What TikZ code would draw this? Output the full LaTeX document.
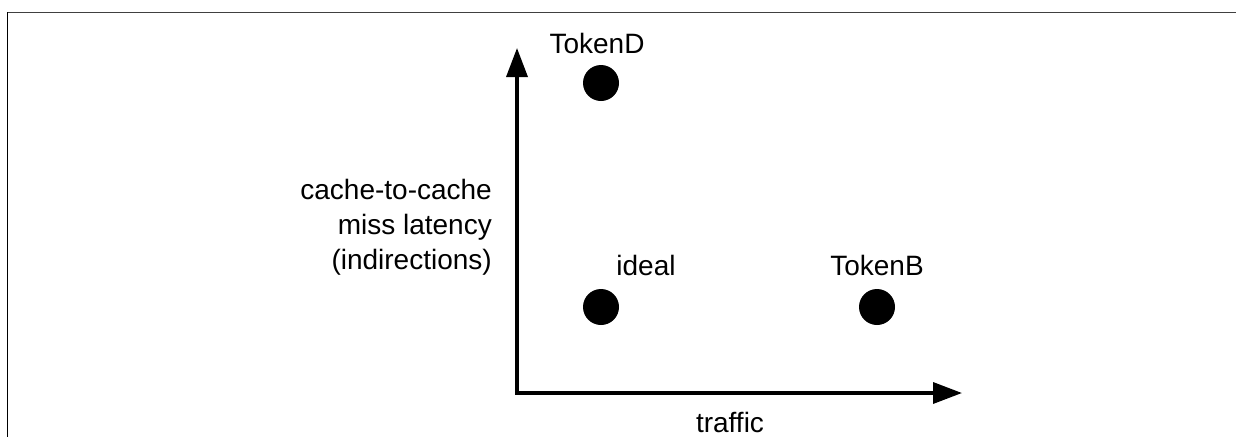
\documentclass[tikz,border=0pt]{standalone}
\usepackage{fontspec}
\setmainfont{Liberation Sans}
\usetikzlibrary{arrows.meta}
\begin{document}
\begin{tikzpicture}[x=1pt,y=-1pt,
  axis/.style={line width=3.5pt,-{Triangle[length=29pt,width=21pt]}},
  dot/.style={circle,fill=black,inner sep=0pt,minimum size=36pt},
  lbl/.style={font=\fontsize{28}{35}\selectfont,inner sep=0pt},
  frameline/.style={line width=1.5pt}]
\useasboundingbox (0,0) rectangle (1236,437);
% open frame: top edge and left edge
\draw[frameline,draw=black!75] (7,12.5) -- (1236,12.5);
\draw[frameline] (7.5,12) -- (7.5,437);
% axes
\coordinate (o) at (517,393);
\coordinate (ytip) at (517,48);
\coordinate (xtip) at (962,393);
\draw[axis,line cap=butt] (o) -- (ytip);
\draw[axis] ([xshift=-1.75pt]o) -- (xtip);
% data points
\node[dot] (tokend) at (601,83) {};
\node[dot] (ideal) at (601,307) {};
\node[dot] (tokenb) at (877,307) {};
% labels
\node[lbl,anchor=base] (tokendl) at (597,53) {TokenD};
\node[lbl,anchor=base] (ideall) at (646,275) {ideal};
\node[lbl,anchor=base] (tokenbl) at (877,275) {TokenB};
\node[lbl,anchor=base] (xl) at (730,432) {traffic};
\node[lbl,anchor=east,align=right] (yl) at (492,227) {cache-to-cache\\miss latency\\(indirections)};
\end{tikzpicture}
\end{document}
